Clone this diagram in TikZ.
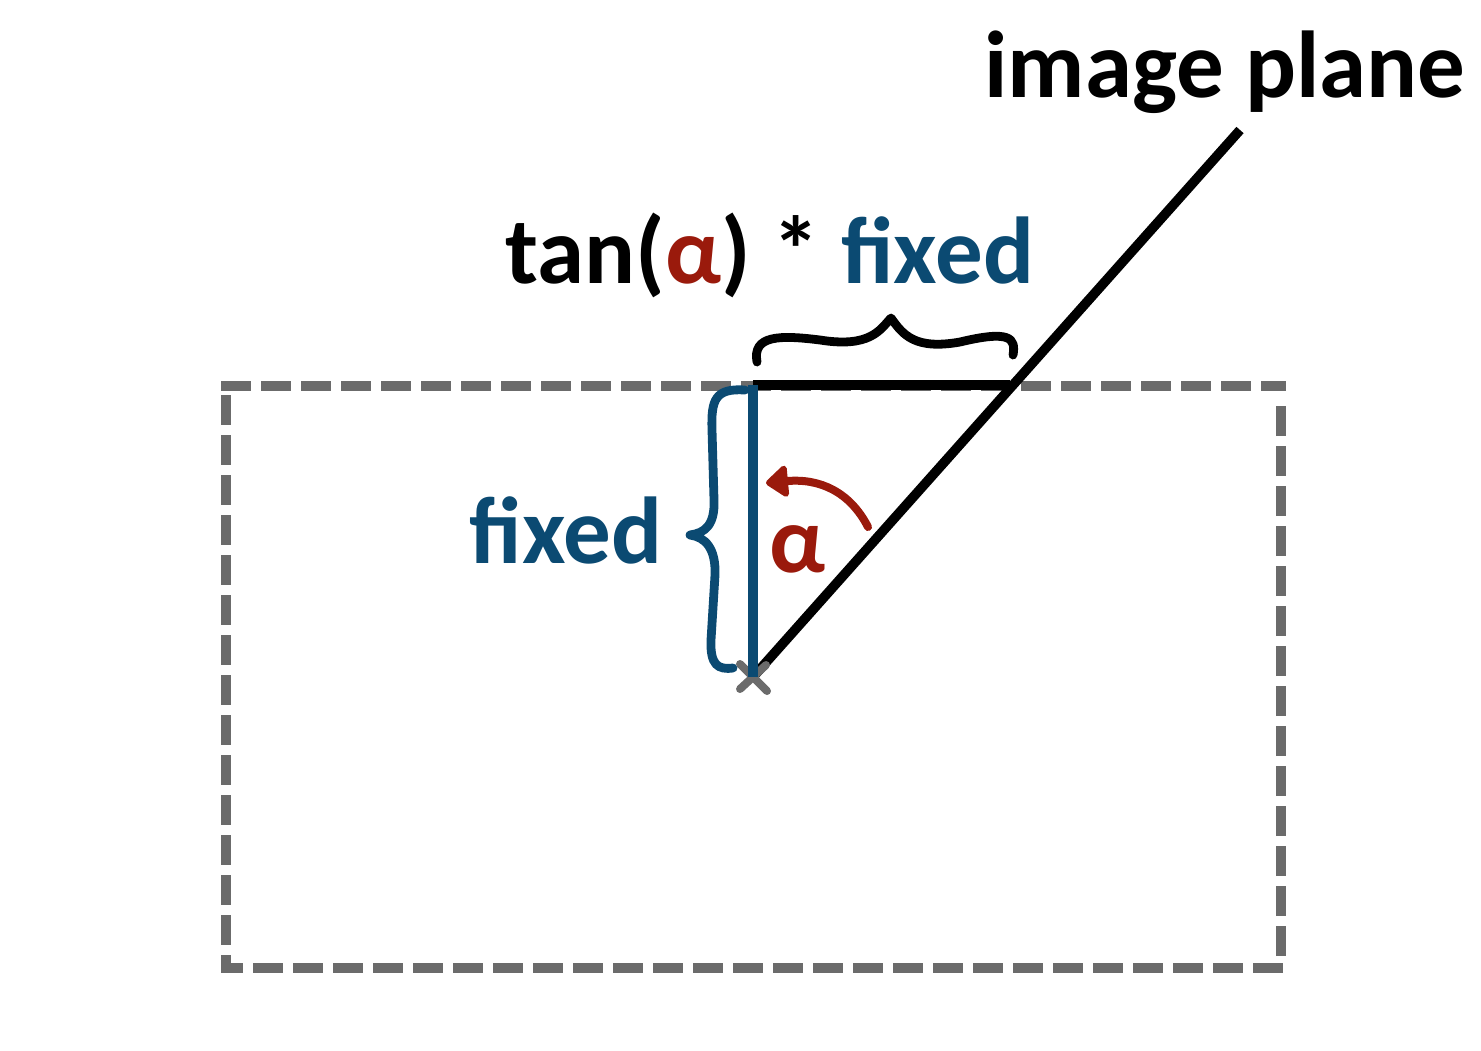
\documentclass[tikz,border=0pt]{standalone}
\usepackage{fontspec}
\setmainfont{Carlito}
\usetikzlibrary{arrows.meta,calc}
\definecolor{fblue}{HTML}{0B4A72}
\definecolor{fred}{HTML}{9A1A0C}
\definecolor{fgray}{HTML}{6B6B6B}
\tikzset{
  lbl/.style={font=\bfseries\fontsize{47.5}{54}\selectfont, inner sep=0pt},
  frame/.style={draw=fgray, line width=5pt, dash pattern=on 15pt off 5pt},
  blk/.style={draw=black, line width=4.8pt},
  bracestyle/.style={line width=4.4pt, line cap=round, line join=round},
}
\begin{document}
\begin{tikzpicture}[x=0.5pt,y=-0.5pt]
\useasboundingbox (0,0) rectangle (1481,1050);
% coordinates
\coordinate (O) at (753,677);
\coordinate (T) at (753,385);
\coordinate (H) at (1010,385);
\coordinate (P) at (1240,130);
% dashed frame
\draw[frame] (221,386) -- (1286,386);
\draw[frame] (226,395) -- (226,973);
\draw[frame] (1283,968) -- (221,968);
\draw[frame] (1281,956) -- (1281,397);
% lines
\draw[blk] (T) -- (H);
\draw[blk, line cap=butt] (O) -- (P);
% X mark
\draw[fgray, line width=4pt, line cap=round] ($(O)+(-13,-13)$) -- ($(O)+(14,14)$) ($(O)+(-13,12)$) -- ($(O)+(13,-12)$);
\draw[draw=fblue, line width=4.6pt] (T) -- (O);
% left brace
\draw[fblue, bracestyle] (745,390) .. controls (715,388) and (711,400) .. (712,430) -- (714,500) .. controls (715,525) and (705,533) .. (690,535) .. controls (705,537) and (716,548) .. (715,575) -- (711,640) .. controls (710,665) and (718,670) .. (733,668);
% top brace
\draw[black, bracestyle] (757,362) .. controls (752,335) and (780,335) .. (820,340) .. controls (870,348) and (880,330) .. (891,318) .. controls (903,335) and (915,350) .. (960,342) .. controls (1010,330) and (1016,338) .. (1013,355);
% alpha arrow
\draw[fred, line width=4pt, line cap=round, line join=round, -{Triangle[length=12pt,width=18pt,round]}] (868,527) .. controls (850,492) and (820,478) .. (766,483);
% labels
\node[lbl, text=fred] (alpha) at (798,549) {α};
\node[lbl, text=fblue] (fixedL) at (566,530) {fixed};
\node[lbl] (tanl) at (770,255) {tan(\textcolor{fred}{α}) * \textcolor{fblue}{fixed}};
\node[lbl] (plane) at (1225,72) {image plane};
\end{tikzpicture}
\end{document}
